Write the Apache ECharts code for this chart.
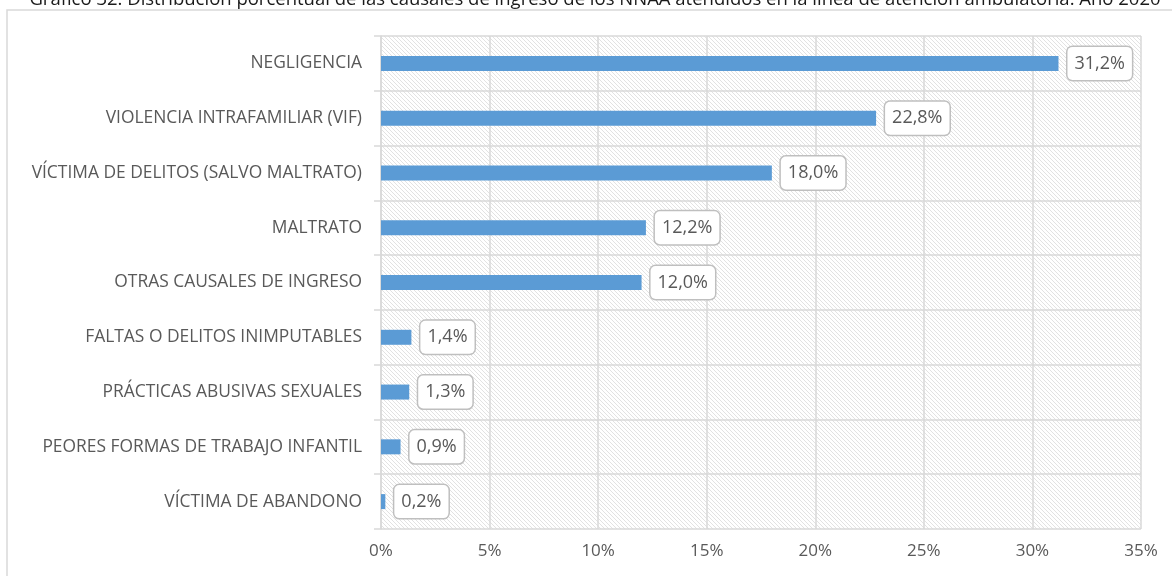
<!DOCTYPE html>
<html>
<head>
<meta charset="utf-8">
<script src="https://cdn.jsdelivr.net/npm/echarts@6/dist/echarts.min.js"></script>
<style>
html,body{margin:0;padding:0;background:#fff;}
#chart{width:1172px;height:576px;}
</style>
</head>
<body>
<div id="chart"></div>
<script>
const titleText = 'Gráfico 32: Distribución porcentual de las causales de ingreso de los NNAA atendidos en la línea de atención ambulatoria. Año 2020';
const categories = [
  'NEGLIGENCIA',
  'VIOLENCIA INTRAFAMILIAR (VIF)',
  'VÍCTIMA DE DELITOS (SALVO MALTRATO)',
  'MALTRATO',
  'OTRAS CAUSALES DE INGRESO',
  'FALTAS O DELITOS INIMPUTABLES',
  'PRÁCTICAS ABUSIVAS SEXUALES',
  'PEORES FORMAS DE TRABAJO INFANTIL',
  'VÍCTIMA DE ABANDONO'
];
const values = [31.2, 22.8, 18.0, 12.2, 12.0, 1.4, 1.3, 0.9, 0.2];
const axisMin = 0, axisMax = 35, axisStep = 5;

function makeHatch() {
  const c = document.createElement('canvas');
  const s = 8;
  c.width = s; c.height = s;
  const ctx = c.getContext('2d');
  ctx.fillStyle = '#ffffff';
  ctx.fillRect(0, 0, s, s);
  ctx.strokeStyle = '#e2e2e2';
  ctx.lineWidth = 1;
  for (let k = -2; k <= 2; k++) {
    const off = k * 4;
    ctx.beginPath();
    ctx.moveTo(off - 2, -2);
    ctx.lineTo(off + s + 2, s + 2);
    ctx.stroke();
  }
  return c;
}

const chart = echarts.init(document.getElementById('chart'), null, {renderer: 'canvas'});
const fontFam = '"Open Sans", sans-serif';
chart.setOption({
  animation: false,
  backgroundColor: '#ffffff',
  graphic: [
    {type: 'rect', shape: {x: 7, y: 10, width: 1300, height: 700}, style: {fill: 'none', stroke: '#d9d9d9', lineWidth: 1.5}, z: -10},
    {type: 'text', x: 595, y: 0, style: {text: titleText, font: '18.5px "Open Sans", sans-serif', fill: '#1a1a1a', align: 'center', verticalAlign: 'middle'}}
  ],
  grid: {
    left: 381, right: 31, top: 36, bottom: 47,
    show: true,
    borderWidth: 0,
    backgroundColor: {image: makeHatch(), repeat: 'repeat'}
  },
  xAxis: {
    type: 'value', min: axisMin, max: axisMax, interval: axisStep,
    axisLine: {show: false}, axisTick: {show: false},
    splitLine: {show: true, lineStyle: {color: '#d9d9d9', width: 1.5}},
    axisLabel: {formatter: '{value}%', color: '#595959', fontFamily: fontFam, fontSize: 17, margin: 14}
  },
  yAxis: {
    type: 'category', data: categories, inverse: true,
    axisLine: {show: true, lineStyle: {color: '#d9d9d9', width: 1.5}},
    axisTick: {show: true, length: 7, lineStyle: {color: '#d9d9d9', width: 1.5}},
    splitLine: {show: true, lineStyle: {color: '#d9d9d9', width: 1.5}},
    axisLabel: {color: '#595959', fontFamily: fontFam, fontSize: 17.4, margin: 19}
  },
  series: [{
    type: 'bar', data: values, barWidth: 15,
    itemStyle: {color: '#5b9bd5'},
    label: {
      show: true, position: 'right', distance: 9,
      formatter: p => p.value.toFixed(1).replace('.', ',') + '%',
      color: '#595959', fontFamily: fontFam, fontSize: 18,
      backgroundColor: '#ffffff', borderColor: '#bfbfbf', borderWidth: 1.5, borderRadius: 5,
      padding: [8, 7, 7, 7]
    }
  }]
});
</script>
</body>
</html>
